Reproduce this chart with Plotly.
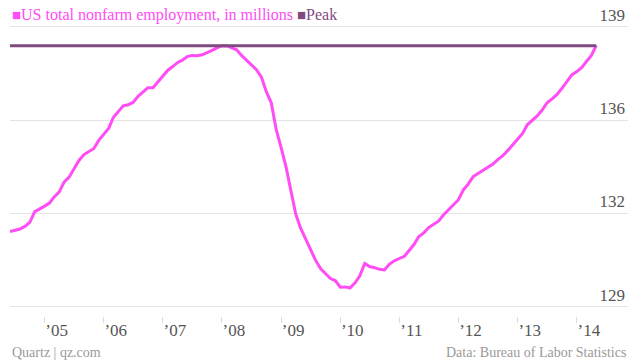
import plotly.graph_objects as go
import pandas as pd

# Monthly dates, June 2004 - May 2014
months = pd.date_range("2004-06-01", periods=120, freq="MS")

# US total nonfarm employment, millions
employment = [
    131.70, 131.74, 131.79, 131.88, 132.03, 132.41, 132.50, 132.61, 132.73, 132.94,
    133.12, 133.47, 133.65, 133.93, 134.25, 134.46, 134.56, 134.68, 134.97, 135.17,
    135.41, 135.79, 136.01, 136.21, 136.25, 136.33, 136.55, 136.71, 136.86, 136.86,
    137.06, 137.27, 137.49, 137.61, 137.76, 137.85, 137.98, 138.02, 138.01, 138.04,
    138.11, 138.20, 138.29, 138.37, 138.36, 138.30, 138.22, 138.02, 137.85, 137.69,
    137.51, 137.24, 136.72, 136.31, 135.36, 134.70, 133.99, 133.19, 132.32, 131.82,
    131.44, 131.03, 130.67, 130.37, 130.20, 130.01, 129.94, 129.70, 129.71, 129.67,
    129.85, 130.10, 130.55, 130.44, 130.40, 130.34, 130.32, 130.53, 130.65, 130.73,
    130.81, 131.01, 131.23, 131.52, 131.65, 131.84, 131.97, 132.08, 132.30, 132.50,
    132.66, 132.84, 133.20, 133.40, 133.67, 133.78, 133.89, 133.99, 134.12, 134.29,
    134.42, 134.61, 134.80, 135.01, 135.23, 135.53, 135.69, 135.85, 136.06, 136.32,
    136.46, 136.62, 136.84, 137.07, 137.32, 137.44, 137.59, 137.80, 138.02, 138.38,
]

peak_value = 138.37

y_tick_vals = [129.0, 132.35, 135.7, 139.05]
y_tick_labels = ["129", "132", "136", "139"]

x_tick_vals = [f"{y}-01-01" for y in range(2005, 2015)]
x_tick_labels = ["’05", "’06", "’07", "’08", "’09", "’10", "’11", "’12", "’13", "’14"]

PINK = "#ff4cf4"
PURPLE = "#7f4a7f"
FONT = "Liberation Serif"

fig = go.Figure()
fig.add_trace(go.Scatter(
    x=months, y=employment, mode="lines",
    line=dict(color=PINK, width=3), name="US total nonfarm employment, in millions",
    showlegend=False,
))
fig.add_trace(go.Scatter(
    x=months, y=[peak_value] * len(months), mode="lines",
    line=dict(color=PURPLE, width=3), name="Peak", showlegend=False,
))

fig.update_layout(
    template="none",
    width=640, height=361,
    margin=dict(l=10, r=12, t=4, b=45, autoexpand=False),
    paper_bgcolor="white", plot_bgcolor="white",
    font=dict(family=FONT, color="#555555", size=17),
    showlegend=False,
    xaxis=dict(
        range=["2004-06-01", "2014-11-13"],
        tickvals=x_tick_vals, ticktext=x_tick_labels,
        showgrid=False, zeroline=False, showline=False, automargin=False,
        ticks="outside", ticklen=6, tickcolor="#dddddd", tickwidth=1,
        ticklabelshift=12, ticklabelstandoff=-7,
        tickfont=dict(family=FONT, size=17, color="#555555"),
    ),
    yaxis=dict(
        range=[128.666, 139.865], side="right",
        tickvals=y_tick_vals, ticktext=y_tick_labels,
        ticklabelposition="inside top", automargin=False,
        showgrid=True, gridcolor="#e3e3e3", gridwidth=1,
        zeroline=False, showline=False, ticks="",
        tickfont=dict(family=FONT, size=17, color="#555555"),
    ),
    annotations=[
        dict(
            xref="paper", yref="paper", x=0, y=1, xanchor="left", yanchor="top",
            yshift=0, showarrow=False,
            text=(f"<span style='color:{PINK}'><span style='font-size:15px'>■</span>US total nonfarm employment, in millions</span> "
                  f"<span style='color:{PURPLE}'><span style='font-size:15px'>■</span>Peak</span>"),
            font=dict(family=FONT, size=16),
        ),
        dict(
            xref="paper", yref="paper", x=0, y=0, xanchor="left", yanchor="middle",
            yshift=-36, showarrow=False, text="Quartz | qz.com",
            font=dict(family=FONT, size=14, color="#999999"),
        ),
        dict(
            xref="paper", yref="paper", x=1, y=0, xanchor="right", yanchor="middle",
            yshift=-36, showarrow=False, text="Data: Bureau of Labor Statistics",
            font=dict(family=FONT, size=14, color="#999999"),
        ),
    ],
)

fig.write_html("out.html", config={"displayModeBar": False},
               post_script="document.body.style.margin='0px';")
